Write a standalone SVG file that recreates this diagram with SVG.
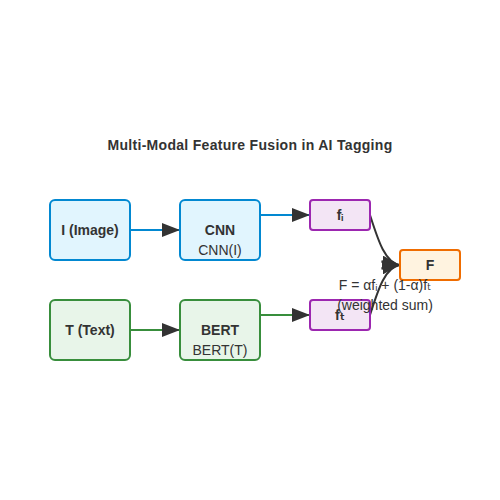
<svg xmlns="http://www.w3.org/2000/svg" width="500" height="500" viewBox="0 0 500 500">
<defs>
<marker id="arr" viewBox="0 0 18 14" refX="18" refY="7" markerWidth="18" markerHeight="14" markerUnits="userSpaceOnUse" orient="auto">
<path d="M0,0 L18,7 L0,14 z" fill="#333"/>
</marker>
<style>
text{font-family:"Liberation Sans",Arial,"DejaVu Sans",sans-serif;fill:#333;text-anchor:middle}
.b{font-weight:bold;font-size:14px}
.s{font-size:14px}
.n rect{stroke-width:2}
.blue rect{fill:#e1f5fe;stroke:#0288d1}
.green rect{fill:#e8f5e9;stroke:#388e3c}
.purple rect{fill:#f3e5f5;stroke:#9c27b0}
.orange rect{fill:#fff3e0;stroke:#ef6c00}
.e{fill:none;stroke-width:2;marker-end:url(#arr)}
</style>
</defs>
<rect width="500" height="500" fill="#fff"/>
<text x="250" y="150" style="font-weight:bold;font-size:14px;letter-spacing:0.3px">Multi-Modal Feature Fusion in AI Tagging</text>
<g id="edges">
<path class="e" d="M130,230 L180,230" stroke="#0288d1"/>
<path class="e" d="M260,215 L310,215" stroke="#0288d1"/>
<path class="e" d="M130,330 L180,330" stroke="#388e3c"/>
<path class="e" d="M260,315 L310,315" stroke="#388e3c"/>
<path class="e" d="M370,215 C378,240 385,263 400,265" stroke="#333"/>
<path class="e" d="M370,315 C378,290 385,267 400,265" stroke="#333"/>
</g>
<g id="image" class="n blue"><rect x="50" y="200" width="80" height="60" rx="5"/><text class="b" x="90" y="235">I (Image)</text></g>
<g id="cnn" class="n blue"><rect x="180" y="200" width="80" height="60" rx="5"/><text class="b" x="220" y="235">CNN</text><text class="s" x="220" y="255">CNN(I)</text></g>
<g id="text" class="n green"><rect x="50" y="300" width="80" height="60" rx="5"/><text class="b" x="90" y="335">T (Text)</text></g>
<g id="bert" class="n green"><rect x="180" y="300" width="80" height="60" rx="5"/><text class="b" x="220" y="335">BERT</text><text class="s" x="220" y="355">BERT(T)</text></g>
<g id="fi" class="n purple"><rect x="310" y="200" width="60" height="30" rx="3"/><text class="b" x="340" y="220">fᵢ</text></g>
<g id="ft" class="n purple"><rect x="310" y="300" width="60" height="30" rx="3"/><text class="b" x="340" y="320">fₜ</text></g>
<g id="F" class="n orange"><rect x="400" y="250" width="60" height="30" rx="3"/><text class="b" x="430" y="270">F</text></g>
<g id="formula"><text class="s" x="385" y="290">F = αfᵢ + (1-α)fₜ</text><text class="s" x="385" y="310">(weighted sum)</text></g>
</svg>
